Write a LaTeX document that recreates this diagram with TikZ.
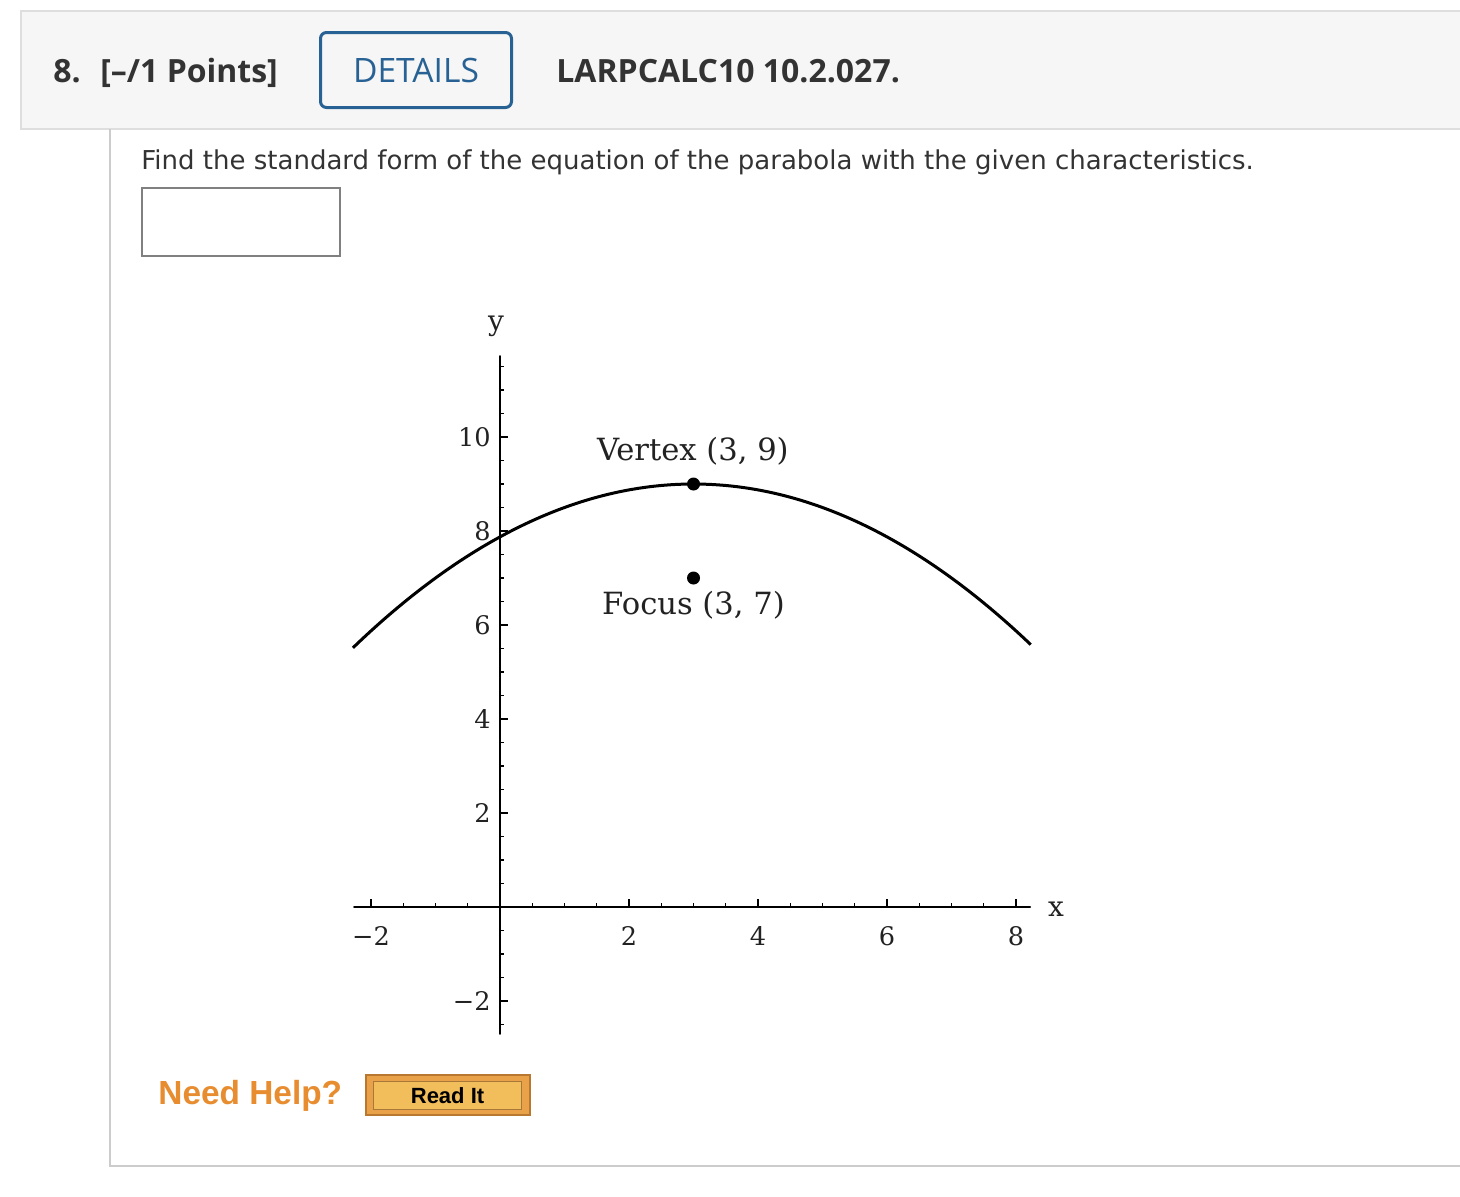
\documentclass[tikz,border=0pt]{standalone}
\usepackage{fontspec}
\newfontfamily\hdrfont{Open Sans}
\newfontfamily\qfont{DejaVu Sans}
\newfontfamily\plotfont{DejaVu Serif}
\newfontfamily\helpfont{Liberation Sans}
\usetikzlibrary{positioning}
\definecolor{HdrBg}{RGB}{246,246,246}
\definecolor{HdrLine}{RGB}{222,222,222}
\definecolor{HdrText}{RGB}{51,51,51}
\definecolor{DetBlue}{RGB}{40,98,148}
\definecolor{PanelLine}{RGB}{204,204,204}
\definecolor{AnsGray}{RGB}{128,128,128}
\definecolor{HelpOrange}{RGB}{232,140,48}
\definecolor{ReadEdge}{RGB}{184,120,48}
\definecolor{ReadOuter}{RGB}{234,162,74}
\definecolor{ReadFill}{RGB}{242,189,91}
\definecolor{ReadInner}{RGB}{168,120,56}
\definecolor{PlotText}{RGB}{34,34,34}

\begin{document}
\begin{tikzpicture}[x=0.5pt, y=-0.5pt,
	hdr/.style={font=\hdrfont\bfseries\fontsize{16pt}{20pt}\selectfont, text=HdrText, inner sep=0pt, anchor=base west},
	axisline/.style={line width=1pt, line cap=round},
	tickline/.style={line width=0.7pt},
	ticklbl/.style={font=\plotfont\fontsize{12.8pt}{15pt}\selectfont, text=PlotText, inner sep=0pt},
	plotlbl/.style={font=\plotfont\fontsize{15.3pt}{18pt}\selectfont, text=PlotText, inner sep=0pt},
	dot/.style={circle, fill=black, inner sep=0pt, minimum size=6.5pt}]
	\useasboundingbox (0,0) rectangle (1460,1196);
	\clip (0,0) rectangle (1460,1196);

	%Header

	\draw [fill=HdrBg, draw=HdrLine, line width=1pt] (21,11) rectangle (1480,129);
	\draw [PanelLine, line width=1pt] (110,129) -- (110,1166) -- (1480,1166);

	\node (Num) [hdr] at (53,82) {8.};
	\node (Points) [hdr] at (100,82) {[–/1 Points]};

	\node (Details) [draw=DetBlue, line width=1.5pt, rounded corners=3pt, minimum width=95.5pt, minimum height=37.5pt, inner sep=0pt] at (416,70) { };
	\node (DetailsName) [font=\hdrfont\fontsize{16.8pt}{20pt}\selectfont, text=DetBlue, inner sep=0pt] at (Details.center) {DETAILS};

	\node (Code) [hdr] at (556,82) {LARPCALC10 10.2.027.};

	%Question

	\node (Question) [font=\qfont\fontsize{13pt}{15pt}\selectfont, text=HdrText, inner sep=0pt, anchor=base west] at (141,169) {Find the standard form of the equation of the parabola with the given characteristics.};
	\node (Answer) [draw=AnsGray, line width=1pt, minimum width=99pt, minimum height=34pt, inner sep=0pt, anchor=north west] at (141,187) { };

	%Graph

	\begin{scope}[shift={(500,907)}, x=32.25pt, y=23.5pt]
		\draw [axisline] (-2.26,0) -- (8.22,0);
		\draw [axisline] (0,-2.7) -- (0,11.72);

		\foreach \x in {-2,-1.5,...,8} {
			\draw [tickline] (\x,0) -- ++(0,2pt);
		}
		\foreach \x/\t in {-2/−2,2/2,4/4,6/6,8/8} {
			\draw [tickline] (\x,0) -- ++(0,4pt);
			\node (X\x) [ticklbl] at (\x,-0.62) {\t};
		}
		\foreach \y in {-2.5,-2,...,11.5} {
			\draw [tickline] (0,\y) -- ++(2pt,0);
		}
		\foreach \y/\t in {-2/−2,2/2,4/4,6/6,8/8,10/10} {
			\draw [tickline] (0,\y) -- ++(4pt,0);
			\node (Y\y) [ticklbl, anchor=east] at (-0.14,\y) {\t};
		}

		\node (XName) [ticklbl, font=\plotfont\fontsize{14pt}{16pt}\selectfont] at (8.62,-0.04) {x};
		\node (YName) [ticklbl, font=\plotfont\fontsize{14pt}{16pt}\selectfont] at (-0.06,12.35) {y};

		\draw [line width=1.5pt, smooth, samples=80, domain=-2.28:8.23] plot (\x, {9-(\x-3)^2/8});

		\node (Vertex) [dot] at (3,9) { };
		\node (Focus) [dot] at (3,7) { };

		\node (VertexName) [plotlbl] at (2.99,9.70) {Vertex (3, 9)};
		\node (FocusName) [plotlbl] at (3.0,6.43) {Focus (3, 7)};
	\end{scope}

	%Help

	\node (Help) [font=\helpfont\bfseries\fontsize{16.7pt}{20pt}\selectfont, text=HelpOrange, inner sep=0pt, anchor=base west] at (158,1104) {Need Help?};
	\node (ReadIt) [draw=ReadEdge, fill=ReadOuter, line width=1pt, minimum width=82pt, minimum height=20pt, inner sep=0pt, right=11pt of Help] { };
	\node (ReadItName) [draw=ReadInner, fill=ReadFill, line width=0.5pt, minimum width=74pt, minimum height=14pt, inner sep=0pt, font=\helpfont\bfseries\fontsize{11pt}{13pt}\selectfont] at (ReadIt.center) {Read It};
\end{tikzpicture}
\end{document}
